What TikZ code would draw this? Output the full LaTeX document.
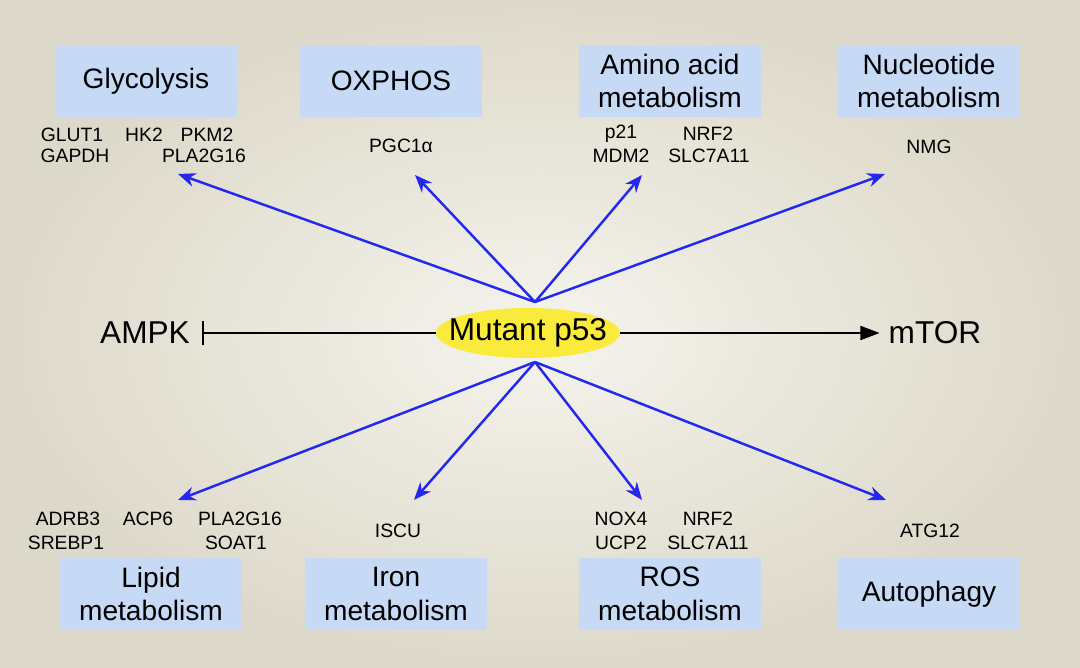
\documentclass[tikz,border=0pt]{standalone}
\usepackage{fontspec}
\setmainfont{Liberation Sans}
\usetikzlibrary{positioning}
\usetikzlibrary{shapes.geometric}
\usetikzlibrary{arrows.meta}
\definecolor{bgInner}{RGB}{245,244,237}
\definecolor{bgOuter}{RGB}{221,217,202}
\definecolor{boxColor}{RGB}{198,218,245}
\definecolor{arrowColor}{RGB}{36,40,238}
\definecolor{p53Color}{RGB}{250,234,60}

\begin{document}
\begin{tikzpicture}[x=0.02cm,y=-0.02cm]

            \tikzstyle{catBox} = [fill=boxColor, minimum width=3.64cm, minimum height=1.46cm, inner sep=0pt, align=center, font=\fontsize{16}{19}\selectfont];
            \tikzstyle{geneText} = [inner sep=0pt, font=\fontsize{11}{13}\selectfont];
            \tikzstyle{blueArrow} = [arrowColor, line width=1.4pt, -{Stealth[length=10pt,width=8pt]}];

            \shade[inner color=bgInner, outer color=bgOuter] (0,0) rectangle (1080,668);
            \useasboundingbox (0,0) rectangle (1080,668);

            % categories
            \node[catBox] (glyc) at (146,81) {Glycolysis};
            \node[catBox] (oxphos) at (391,81) {OXPHOS};
            \node[catBox] (amino) at (670,81) {Amino acid\\metabolism};
            \node[catBox] (nucl) at (929,81) {Nucleotide\\metabolism};
            \node[catBox] (lipid) at (151,594) {Lipid\\metabolism};
            \node[catBox] (iron) at (396,594) {Iron\\metabolism};
            \node[catBox] (ros) at (670,594) {ROS\\metabolism};
            \node[catBox] (auto) at (929,594) {Autophagy};

            % genes
            \node[geneText] (glut1) at (72,135) {GLUT1};
            \node[geneText] (hk2) at (144,135) {HK2};
            \node[geneText] (pkm2) at (207,135) {PKM2};
            \node[geneText] (gapdh) at (75,156) {GAPDH};
            \node[geneText] (pla2g16a) at (204,156) {PLA2G16};
            \node[geneText] (pgc1a) at (401,146) {PGC1α};
            \node[geneText] (p21) at (621,134) {p21};
            \node[geneText] (nrf2a) at (708,134) {NRF2};
            \node[geneText] (mdm2) at (621,156) {MDM2};
            \node[geneText] (slc7a11a) at (709,156) {SLC7A11};
            \node[geneText] (nmg) at (929,147) {NMG};

            \node[geneText] (adrb3) at (68,519) {ADRB3};
            \node[geneText] (acp6) at (148,519) {ACP6};
            \node[geneText] (pla2g16b) at (240,519) {PLA2G16};
            \node[geneText] (srebp1) at (66,543) {SREBP1};
            \node[geneText] (soat1) at (236,543) {SOAT1};
            \node[geneText] (iscu) at (398,531) {ISCU};
            \node[geneText] (nox4) at (621,519) {NOX4};
            \node[geneText] (nrf2b) at (708,519) {NRF2};
            \node[geneText] (ucp2) at (621,543) {UCP2};
            \node[geneText] (slc7a11b) at (708,543) {SLC7A11};
            \node[geneText] (atg12) at (930,531) {ATG12};

            % centre
            \node[ellipse, fill=p53Color, inner xsep=-8pt, inner ysep=0pt, minimum height=1cm, font=\fontsize{18}{20}\selectfont] (p53) at (528,333) {Mutant p53};
            \node[font=\fontsize{18}{20}\selectfont, inner sep=0pt] (ampk) at (145,333) {AMPK};
            \node[font=\fontsize{18}{20}\selectfont, inner sep=0pt] (mtor) at (935,333) {mTOR};

            \draw[line width=1.2pt, -{Bar[width=14pt]}] (p53.west) -- ([xshift=6.5pt]ampk.east);
            \draw[line width=1.2pt, -{Triangle[length=11pt,width=8pt]}] (p53.east) -- ([xshift=-5pt]mtor.west);

            \coordinate (hubTop) at (535,302);
            \coordinate (hubBot) at (535,362);
            \coordinate (tGlyc) at (178,174);
            \coordinate (tOx) at (415,175);
            \coordinate (tAmino) at (642,175);
            \coordinate (tNucl) at (885,174);
            \coordinate (tLipid) at (178,500);
            \coordinate (tIron) at (414,500);
            \coordinate (tRos) at (642,500);
            \coordinate (tAuto) at (886,500);

            \draw[blueArrow] (hubTop) -- (tGlyc);
            \draw[blueArrow] (hubTop) -- (tOx);
            \draw[blueArrow] (hubTop) -- (tAmino);
            \draw[blueArrow] (hubTop) -- (tNucl);
            \draw[blueArrow] (hubBot) -- (tLipid);
            \draw[blueArrow] (hubBot) -- (tIron);
            \draw[blueArrow] (hubBot) -- (tRos);
            \draw[blueArrow] (hubBot) -- (tAuto);
          \end{tikzpicture}
\end{document}
